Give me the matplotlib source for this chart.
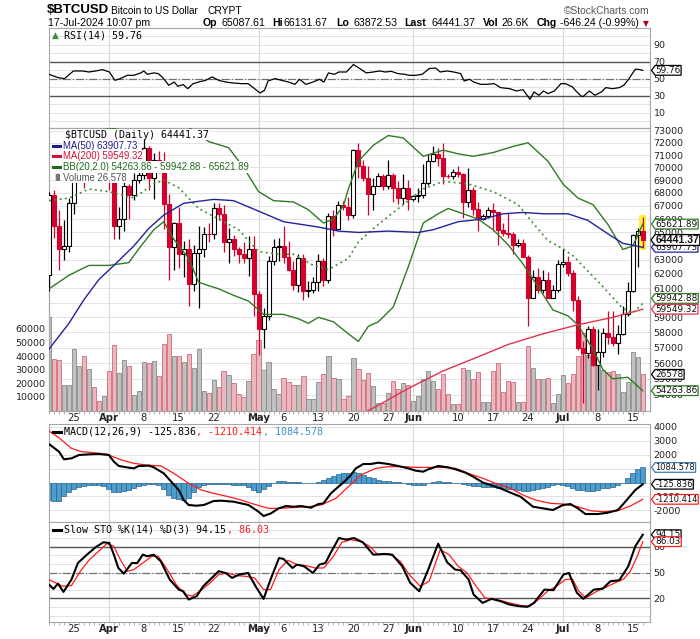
import numpy as np
import pandas as pd
import matplotlib
matplotlib.use("Agg")
import matplotlib.pyplot as plt
from matplotlib import font_manager, transforms
from matplotlib.lines import Line2D
from matplotlib.path import Path
from matplotlib.ticker import FixedLocator, NullLocator, FuncFormatter

# ---------------- data ----------------
start_date = "2024-03-20"

opens = [61930, 67850, 65500, 63800, 64000, 67200, 69950, 70000, 69450, 70750, 69900, 69700,
         71300, 69650, 65450, 65980, 68500, 67850, 69000, 69400, 71600, 69150, 70600, 70000, 67150,
         63900, 65700, 63400, 63800, 61300, 63500, 63800, 64900, 64880, 66800, 66400, 64300, 64500,
         63800, 63400, 63100, 63800,
         60600, 58250, 59100, 62900, 63900, 64000, 63200, 62300, 61200, 63100, 60800, 60850, 61450,
         62900, 61550, 66250, 65250, 67050, 66950, 66280, 71450, 70150, 69150, 67950, 68550, 69300,
         68500, 69400, 68350, 67600, 68350,
         67500, 67750, 67800, 68800, 70550, 71100, 70800, 69350, 69300, 69650, 69500, 67300, 68250,
         66750, 66000, 66200, 66650, 66500, 65150, 64950, 64850, 64100, 64250, 63200, 60300, 61800,
         60850, 61600, 60300, 60900,
         62700, 62850, 62050, 60200, 57000, 56650, 58250, 55850, 56700, 57950, 57700, 57300, 57900,
         59200, 60800, 64800, 65087.61]
highs = [68100, 68200, 66650, 65950, 67600, 71150, 71550, 71700, 71550, 70900, 70300, 71350,
         71350, 69700, 66900, 69250, 68700, 69600, 70300, 72750, 71750, 71150, 71300, 71250, 67900,
         65800, 66900, 64350, 64500, 64100, 65450, 65400, 65700, 67200, 67200, 67100, 65300, 64800,
         63900, 64300, 64700, 64700,
         60800, 59600, 63300, 64500, 64600, 65450, 64400, 62950, 63400, 63450, 61500, 61800, 63450,
         63100, 66450, 66700, 67400, 67400, 67650, 71500, 71950, 70600, 70100, 69200, 69550, 69500,
         70600, 69550, 68900, 69500, 69000,
         67850, 68400, 70250, 71050, 71750, 71600, 71950, 69500, 69850, 70150, 69550, 69950, 68450,
         67300, 66400, 66950, 67250, 66500, 65700, 66450, 65050, 64500, 64500, 63350, 62300, 62450,
         62300, 62150, 61200, 63000,
         63800, 63250, 62250, 60450, 57450, 58450, 58400, 58200, 58300, 59450, 59450, 58500, 59800,
         61400, 64900, 65350, 66131.67]
lows = [60800, 64600, 62300, 63000, 63600, 66400, 69250, 68400, 68900, 69100, 69600, 69600,
        68200, 64550, 64500, 65100, 66000, 67450, 68800, 69100, 68250, 67500, 69600, 65250, 61600,
        62300, 62400, 61800, 59800, 60800, 59650, 63200, 64300, 64550, 65900, 63600, 62800, 63300,
        62800, 62800, 61850, 59100,
        56550, 56950, 58850, 62600, 62900, 62800, 62200, 60900, 60700, 60200, 60400, 60650, 60800,
        61150, 61350, 64700, 65150, 66650, 65950, 66100, 69200, 68900, 66300, 66650, 68500, 68200,
        68300, 67300, 67150, 67150, 66700,
        67400, 67300, 67600, 68600, 70400, 70150, 68700, 69150, 69100, 69250, 66100, 66950, 66300,
        65100, 65900, 66050, 65100, 64100, 64700, 64600, 63450, 63950, 63200, 58450, 60300, 60650,
        60650, 60300, 60300, 60700,
        62500, 61850, 59450, 56850, 53500, 56350, 55800, 54300, 56400, 57200, 57100, 56600, 57800,
        59100, 60700, 62500, 63872.53]
closes = [67850, 65500, 63800, 64000, 67200, 69950, 70000, 69450, 70750, 69900, 69700, 71300,
          69650, 65450, 65980, 68500, 67850, 69000, 69400, 71600, 69150, 70600, 70000, 67150, 63900,
          65700, 63400, 63800, 61300, 63500, 63800, 64900, 64880, 66800, 66400, 64300, 64500, 63800,
          63400, 63100, 63800, 60600,
          58250, 59100, 62900, 63900, 64000, 63200, 62300, 61200, 63100, 60800, 60850, 61450, 62900,
          61550, 66250, 65250, 67050, 66950, 66280, 71450, 70150, 69150, 67950, 68550, 69300, 68500,
          69400, 68350, 67600, 68350, 67500,
          67750, 67800, 68800, 70550, 71100, 70800, 69350, 69300, 69650, 69500, 67300, 68250, 66750,
          66000, 66200, 66650, 66500, 65150, 64950, 64850, 64100, 64250, 63200, 60300, 61800, 60850,
          61600, 60300, 60900, 62700,
          62850, 62050, 60200, 57000, 56650, 58250, 55850, 56700, 57950, 57700, 57300, 57900, 59200,
          60800, 64800, 65087.61, 64441.37]
volumes = [69000, 38000, 37300, 18900, 18900, 45300, 32800, 40200, 30600, 17600, 7300, 10800,
           28700, 48500, 27900, 36800, 33000, 11500, 14000, 36000, 34800, 36300, 25000, 49000, 56400,
           40400, 40400, 35300, 41200, 31600, 45300, 14200, 13200, 22500, 17600, 28700, 26200, 19900,
           12200, 10000, 21800, 41200,
           51500, 29400, 35300, 15900, 12200, 24000, 21300, 18400, 18400, 25500, 8600, 8600, 21300,
           26500, 40400, 24000, 23300, 8600, 10300, 38500, 30600, 22500, 27700, 17900, 5600, 5600,
           13000, 21800, 15900, 20300, 19100,
           7100, 10500, 22800, 28900, 22000, 15900, 27000, 12000, 4900, 4900, 31400, 30100, 22800,
           28200, 6400, 6400, 28700, 35000, 13500, 22000, 20800, 6100, 6100, 47300, 31600, 22800,
           23300, 24000, 5600, 12200,
           26200, 20300, 27000, 40400, 57100, 40900, 35500, 42900, 29400, 28200, 28900, 27000, 13500,
           20800, 42900, 39200, 26578]

ma50_days = [0, 4, 7, 10, 13, 17, 20, 23, 27, 33, 37, 42, 47, 54, 58, 62, 68, 74, 77, 82, 87, 91,
             95, 99, 104, 108, 112, 115, 119]
ma50_vals = [56900, 58600, 60200, 61600, 62600, 64000, 65300, 66300, 67200, 67500, 67400, 66600,
             65800, 65400, 65100, 65000, 65100, 65000, 65200, 65800, 66000, 66400, 66500, 66400,
             66400, 65900, 64900, 64200, 63907.73]
ma200_days = [58, 65, 72, 79, 86, 92, 99, 106, 113, 119]
ma200_vals = [52100, 53200, 54400, 55500, 56400, 57200, 57900, 58500, 59000, 59549.32]

bb_up_days = [0, 5, 10, 13, 17, 22, 26, 28, 32, 36, 39, 42, 45, 49, 52, 55, 57, 59, 60, 62, 65, 68,
              71, 75, 79, 82, 85, 89, 93, 96, 100, 103, 106, 109, 112, 115, 117, 119]
bb_up_vals = [74000, 73700, 73300, 73200, 73500, 74200, 73800, 73300, 72100, 71600, 70000, 68100,
              67400, 67300, 66700, 65700, 66000, 67000, 68300, 70500, 71800, 72600, 72400, 70900,
              71400, 71100, 70900, 71200, 71700, 72000, 70500, 68700, 67600, 67100, 65600, 63750,
              64000, 65621.89]
bb_mid_days = [0, 4, 8, 12, 17, 21, 23, 26, 30, 34, 38, 42, 46, 49, 53, 56, 60, 62, 66, 70, 75, 79,
               84, 89, 94, 97, 100, 103, 105, 108, 111, 115, 117, 119]
bb_mid_vals = [67400, 67600, 68300, 68100, 67600, 68700, 69000, 68400, 66800, 66000, 65200, 63600,
               63400, 63400, 62600, 62300, 63100, 64300, 65600, 66800, 68300, 68900, 68700, 68100,
               67100, 65700, 64400, 63800, 63300, 62200, 61100, 59600, 59300, 59942.88]
bb_lo_days = [0, 4, 8, 12, 16, 18, 21, 23, 25, 28, 30, 34, 37, 40, 43, 47, 50, 52, 54, 57, 60, 62,
              64, 66, 69, 72, 75, 78, 80, 83, 86, 89, 92, 95, 98, 101, 104, 106, 109, 111, 113, 116,
              119]
bb_lo_vals = [60950, 61900, 62600, 62600, 62800, 63800, 65200, 65800, 64500, 63100, 61400, 60950,
              60500, 60100, 59200, 59200, 58900, 58600, 59000, 58700, 57900, 57400, 58400, 58700,
              59700, 62500, 65700, 66400, 66800, 66400, 66000, 65200, 64100, 62700, 61100, 59500,
              59100, 58500, 56900, 55600, 55000, 55100, 54263.86]

rsi_days = [0, 1.8, 3.1, 4.9, 6.7, 8, 9.4, 10.7, 12.1, 13.2, 14.3, 15.7, 17, 18.4, 19, 19.7, 21,
            21.9, 22.8, 24, 25.1, 25.8, 26.9, 27.8, 28.9, 30, 31.4, 32.7, 34, 35.4, 36.7, 38.5, 39.9,
            41.2, 42.3, 43.2, 43.9, 45.3, 46.6, 48, 49.3, 50.2, 51.5, 52.9, 54.2, 55.1, 56, 57.2,
            58.1, 59.6, 61, 61.8, 63.6, 65, 66.3, 67.4, 68.6, 69.9, 71.3, 72.2, 73.5, 74.8, 76.2,
            77.5, 78.4, 79.8, 81.1, 82.5, 83.2, 84.3, 85.1, 86.5, 87.8, 89.2, 90.5, 92.3, 93.7, 95,
            96.4, 97.2, 98.2, 99.1, 100, 101.3, 102.6, 103.5, 104.9, 105.8, 106.7, 107.1, 108.3,
            109.4, 110.7, 111.6, 112.9, 114.3, 115.2, 116.1, 117.5, 118.1, 119]
rsi_vals = [55.1, 51.2, 50, 59, 59, 57.8, 59, 60.6, 57.8, 48, 50, 53.9, 53.9, 56.7, 59, 55.1, 56.7,
            55.9, 51.2, 42.2, 46, 41, 43, 38.2, 44.1, 46, 48, 52, 48, 46, 45, 44.1, 44.1, 38.2, 33.1,
            36.3, 47.3, 50, 48, 46, 43.3, 49.2, 43.3, 46, 49.2, 46, 56.7, 55.1, 57.8, 57.8, 66.5,
            63.7, 56.7, 57.8, 59, 57.8, 58.6, 55.9, 55.1, 53.9, 53.9, 55.1, 61.8, 62.5, 57.8, 59,
            57.8, 55.9, 47.3, 49.2, 46, 43.3, 43.3, 44.1, 39.4, 38.2, 35.5, 37, 25.7, 34.3, 30.4,
            35.5, 32.4, 35.5, 44.1, 44.1, 40.2, 34.3, 29.2, 29.2, 35.5, 30.4, 34.3, 39.4, 38.2, 39.4,
            42.2, 48.8, 61, 61, 59.76]

macd_days = [0, 2, 3, 4.5, 6, 8, 10, 12, 13, 14, 16, 17, 18, 20, 21, 23, 24.5, 26, 27, 28, 29.5,
             31, 33, 34.5, 37, 38.5, 40, 42, 43, 44.5, 46, 47.5, 49, 50.5, 52.5, 54, 55, 56.5, 58,
             59, 60.5, 61.5, 63, 64.5, 66, 68, 70, 72, 73.5, 75, 76, 78, 80, 81.5, 83.5, 85, 87,
             88.5, 90.5, 92.5, 94.5, 96, 97, 99, 101, 103, 104.5, 106, 107.5, 110, 112, 114, 115.5,
             117.5, 119]
macd_vals = [2772, 2220, 1668, 1740, 1980, 2028, 2052, 1980, 1500, 1188, 1068, 1020, 1188, 1212,
             1092, 660, 60, -540, -1260, -1620, -1668, -1620, -1332, -1308, -1380, -1500, -1620,
             -2100, -2412, -2220, -1860, -1692, -1740, -1692, -1812, -1548, -1500, -780, -300, 0,
             540, 1020, 1332, 1332, 1428, 1332, 1188, 1020, 852, 780, 948, 1188, 1092, 948, 708,
             420, -12, -180, -420, -732, -1020, -1452, -1740, -1860, -1980, -1620, -1548, -1860,
             -2268, -2268, -2172, -1980, -1380, -540, -125.836]
signal_days = [0, 2, 4.5, 6.5, 9, 11.5, 14.5, 17, 19.5, 22.5, 25, 28, 30.5, 33, 36, 38.5, 41, 44,
               46.5, 49.5, 52, 54.5, 57.5, 60, 62.5, 65.5, 68, 71, 73.5, 76, 79, 81.5, 84, 87, 89.5,
               92.5, 95, 97.5, 100.5, 103, 106, 108.5, 111, 114, 116.5, 119]
signal_vals = [3700, 3223, 2460, 2220, 2148, 2052, 1620, 1380, 1260, 1188, 660, -60, -540, -780,
               -1020, -1260, -1548, -1860, -1860, -1788, -1740, -1620, -1140, -300, 540, 1020,
               1140, 1140, 1092, 1092, 1092, 1020, 660, 300, -60, -420, -900, -1260, -1500, -1548,
               -1740, -2028, -2100, -2028, -1692, -1210.414]
hist_vals = [-1250, -1300, -1300, -1000, -700, -450, -300, -250, -200, -200,
             -200, -250, -500, -700, -650, -600, -550, -400, -250, -150,
             -120, -120, -200, -500, -900, -1150, -1200, -1250, -1150, -700,
             -350, -150, -100, -80, -100, -120, -100, -150, -150, -200,
             -300, -550, -650, -500, -250, -50, 80, 100, 60, 20,
             60, 0, -30, -20, 60, 150, 350, 500, 600, 700,
             720, 750, 650, 550, 400, 300, 200, 120, 80, 60,
             40, -30, -100, -170, -200, -170, -40, 30, 80, 50,
             40, 0, -50, -100, -200, -250, -280, -300, -320, -350,
             -400, -430, -450, -500, -560, -600, -600, -550, -450, -380,
             -300, -200, -120, -194, -264, -360, -504, -504, -600, -600,
             -550, -430, -360, -310, -190, 0, 290, 650, 960, 1084.578]

stok_days = [0, 0.9, 1.8, 2.9, 4.5, 5.8, 7.6, 9.4, 10.9, 12.1, 13, 13.9, 15, 16.6, 17.7, 18.8, 19.7,
             21, 22.4, 24.2, 26, 26.9, 28, 29.6, 30.9, 32.3, 34, 35.4, 36.7, 38.1, 39.9, 41.4, 43,
             44.4, 46.1, 47, 48.8, 49.7, 51.1, 52.9, 54.2, 55.4, 56.5, 58.1, 59.6, 61.1, 62.9, 65,
             67.2, 68.8, 70.8, 72.4, 74.2, 76, 78, 79.8, 81.4, 82.5, 84.1, 85.1, 86.9, 88.7, 90.5,
             92.3, 94.1, 95.9, 97.2, 99.3, 101.1, 103.1, 104.2, 105.8, 107.1, 109.2, 111, 112.5,
             114.3, 116.1, 117.5, 119]
stok_vals = [36, 31, 37.2, 27.5, 41.9, 61.2, 70.9, 79.8, 85.3, 84.5, 70.9, 55.4, 48.8, 61.2, 61.2,
             70.9, 69, 70.9, 63.2, 41.9, 30.2, 28.3, 18.6, 22.5, 34.1, 41.9, 51.6, 49.6, 43.8, 47.7,
             49.6, 34.1, 19.4, 41.9, 67, 65.9, 55.4, 59.3, 57.4, 49.6, 59.3, 61.2, 73.6, 90.3, 88.4,
             90.3, 85.3, 70.9, 71.7, 70.9, 57.4, 38, 28.3, 53.5, 83.7, 62, 53.5, 52.7, 41.9, 24.4,
             14.7, 19.4, 16.7, 12.8, 10.9, 10.1, 14.7, 30.2, 29.5, 47.7, 49.6, 26.4, 19.4, 30.2, 31.4,
             39.9, 41.1, 57.4, 80.6, 94.15]
stod_days = [0, 2.7, 4.5, 6.3, 8.1, 10.3, 11.6, 13, 14.3, 15.7, 17, 18.8, 20.6, 21.9, 23.7, 25.5,
             27.3, 28.7, 30.5, 32.3, 34, 35.8, 37.6, 39.4, 41.2, 43, 44.4, 46.1, 47.9, 49.7, 51.5,
             53.3, 55.1, 56.9, 58.7, 60.5, 62.3, 64.1, 65.9, 68.1, 70.4, 72.2, 74.4, 76.2, 78.4,
             80.2, 82, 83.8, 85.6, 87.4, 89.2, 91, 92.8, 94.6, 96.4, 98.1, 99.9, 101.7, 103.5, 104.9,
             106.2, 107.6, 109.8, 111.6, 113.4, 115.2, 116.5, 117.9, 119]
stod_vals = [41.9, 34.1, 34.9, 51.6, 65.1, 76.7, 83.7, 80.6, 65.1, 51.6, 53.5, 61.2, 69, 69, 53.5,
             36, 24.4, 22.5, 29.5, 38, 47.7, 49.6, 46.5, 45.7, 43.8, 30.2, 30.2, 53.5, 64.3, 59.3,
             58.1, 55.4, 55.4, 68.2, 85.3, 88.4, 86.4, 81.4, 70.9, 72.1, 63.2, 47.7, 34.1, 39.9,
             76.7, 70.9, 57.4, 49.6, 34.1, 20.5, 19.4, 16.7, 14, 11.6, 10.9, 18.6, 28.3, 34.1, 41.9,
             42.6, 28.3, 20.5, 28.3, 32.9, 38, 42.6, 51.6, 69, 86.03]

tick_dates = ["2024-03-25", "2024-04-01", "2024-04-08", "2024-04-15", "2024-04-22", "2024-05-01",
              "2024-05-06", "2024-05-13", "2024-05-20", "2024-05-27", "2024-06-01", "2024-06-10",
              "2024-06-17", "2024-06-24", "2024-07-01", "2024-07-08", "2024-07-15"]
tick_labels = ["25", "Apr", "8", "15", "22", "May", "6", "13", "20", "27", "Jun", "10", "17", "24",
               "Jul", "8", "15"]
month_labels = ["Apr", "May", "Jun", "Jul"]

# right-axis labels that sit completely under a value tag in the original
hidden_price_labels = [64000, 60000]
hidden_macd_labels = [1000, 0]

# ---------------- layout ----------------
W, H = 700, 639
fig = plt.figure(figsize=(W / 100, H / 100), dpi=100)
fig.patch.set_facecolor("white")

names = {f.name for f in font_manager.fontManager.ttflist}
NARROW = "Liberation Sans Narrow" if "Liberation Sans Narrow" in names else "Liberation Sans"
SANS = "DejaVu Sans"
MONO = "DejaVu Sans Mono"
ARIAL = "Liberation Sans"

GRID = "#e2e2e2"
FRAME = "#a6a6a6"
DARK = "#555555"
RED = "#d5002b"
LEFT, RIGHT = 49, 650

n = len(closes)
days = np.arange(n)
dates = pd.date_range(start_date, periods=n, freq="D")
tick_days = [(pd.Timestamp(d) - dates[0]).days for d in tick_dates]
month_days = [tick_days[i] for i, lab in enumerate(tick_labels) if lab in month_labels]
XMIN, XMAX = 0.0, 120.45


def panel(top, bottom):
    return fig.add_axes([LEFT / W, 1 - bottom / H, (RIGHT - LEFT) / W, (bottom - top) / H])


def frame(ax):
    for s in ax.spines.values():
        s.set_color(FRAME)
        s.set_linewidth(0.8)
    ax.xaxis.set_major_locator(FixedLocator(tick_days))
    ax.xaxis.set_minor_locator(FixedLocator(days))
    ax.tick_params(axis="x", which="major", length=0, labelbottom=False, pad=1.5)
    ax.tick_params(axis="x", which="minor", length=1.8, width=0.6, color=FRAME)
    ax.tick_params(axis="y", which="both", length=0, pad=2.5, labelsize=6.8, labelcolor="#222")
    for d in month_days:
        ax.axvline(d, color="#d9d9d9", lw=0.9, zorder=0)


def bottom_labels(ax):
    ax.set_xticks(tick_days)
    ax.set_xticklabels(tick_labels)
    ax.tick_params(axis="x", which="major", labelbottom=True, labelsize=7.2, labelcolor="#222")
    for lbl in ax.get_xticklabels():
        if lbl.get_text() in month_labels:
            lbl.set_fontweight("bold")


def ftext(x, y, s, **kw):
    return fig.text(x / W, 1 - y / H, s, va="center", **kw)


def tag_shape(x0, y0, width, height, mutation_size):
    pad = 0.04 * mutation_size
    x0, y0 = x0 - pad, y0 - pad
    width, height = width + 2 * pad, height + 2 * pad
    tip = 0.38 * height
    verts = [(x0 - tip, y0 + height / 2), (x0, y0), (x0 + width, y0),
             (x0 + width, y0 + height), (x0, y0 + height), (x0 - tip, y0 + height / 2)]
    codes = [Path.MOVETO] + [Path.LINETO] * 4 + [Path.CLOSEPOLY]
    return Path(verts, codes)


def tag(ax, value, label, edge, bold=False, dy=0, size=6.4, family=SANS, z=10):
    tr = transforms.blended_transform_factory(fig.transFigure, ax.transData)
    if dy:
        tr = tr + transforms.ScaledTranslation(0, dy / 100, fig.dpi_scale_trans)
    fig.text(655.5 / W, value, label, transform=tr, va="center", ha="left", fontsize=size,
             family=family, fontweight="bold" if bold else "normal", color="#111", zorder=z,
             bbox=dict(boxstyle=tag_shape, fc="white", ec=edge, lw=0.9))


def dash(x, y, color):
    fig.add_artist(Line2D([x / W, (x + 8.5) / W], [1 - y / H, 1 - y / H], color=color, lw=2.2))


# ---------------- RSI ----------------
ax_rsi = panel(28.3, 127.5)
frame(ax_rsi)
for v in range(0, 101, 10):
    ax_rsi.axhline(v, color=GRID, lw=0.7, zorder=0)
ax_rsi.axhline(70, color=DARK, lw=1.0, zorder=1)
ax_rsi.axhline(30, color=DARK, lw=1.0, zorder=1)
ax_rsi.axhline(50, color="#707070", lw=0.9, ls="-.", zorder=1)
ax_rsi.plot(rsi_days, rsi_vals, color="black", lw=0.9, zorder=3)
ax_rsi.yaxis.tick_right()
ax_rsi.set_yticks([10, 30, 50, 70, 90])
ax_rsi.set_xlim(XMIN, XMAX)
ax_rsi.set_ylim(-7.5, 109.2)

# ---------------- price + volume ----------------
ax_vol = panel(127.5, 410.5)
ax_px = ax_vol.twinx()
frame(ax_vol)
for s in ax_px.spines.values():
    s.set_color(FRAME)
    s.set_linewidth(0.8)
ax_px.set_yscale("log")

price_grid = transforms.blended_transform_factory(ax_vol.transAxes, ax_px.transData)
for p in range(54000, 74000, 1000):
    ax_vol.add_line(Line2D([0, 1], [p, p], transform=price_grid, color=GRID, lw=0.7, zorder=0))

prev_close = [opens[0]] + closes[:-1]
down = [c < p for c, p in zip(closes, prev_close)]
vol_face = ["#e9b7be" if d else "#c0c0c0" for d in down]
vol_edge = ["#d06a7c" if d else "#8a8a8a" for d in down]
ax_vol.bar(days, volumes, width=0.86, color=vol_face, edgecolor=vol_edge, lw=0.6, zorder=2)
ax_vol.yaxis.tick_left()
ax_vol.set_yticks(range(10000, 60001, 10000))

# highlight of the latest bar
ax_px.bar(days[-1], highs[-1] * 1.003 - lows[-1] * 0.997, bottom=lows[-1] * 0.997, width=1.45,
          color="#fff23a", zorder=2)
wick_col = [RED if d else "black" for d in down]
ax_px.vlines(days, lows, highs, colors=wick_col, lw=0.9, zorder=3)
body_lo = [min(o, c) for o, c in zip(opens, closes)]
body_h = [max(abs(c - o), 25) for o, c in zip(opens, closes)]
body_face = [RED if c < o else "white" for o, c in zip(opens, closes)]
body_edge = [RED if d else "black" for d in down]
ax_px.bar(days, body_h, bottom=body_lo, width=0.8, color=body_face, edgecolor=body_edge,
          lw=0.8, zorder=4)

ax_px.plot(bb_up_days, bb_up_vals, color="#2f7a22", lw=1.0, zorder=5)
ax_px.plot(bb_lo_days, bb_lo_vals, color="#2f7a22", lw=1.0, zorder=5)
ax_px.plot(bb_mid_days, bb_mid_vals, color="#3f9432", lw=1.2, ls=(0, (1.2, 2.0)), zorder=5)
ax_px.plot(ma50_days, ma50_vals, color="#22229a", lw=1.0, zorder=5)
ax_px.plot(ma200_days, ma200_vals, color="#e2334f", lw=1.0, zorder=5)

ax_px.yaxis.set_major_locator(FixedLocator(range(54000, 74000, 1000)))
ax_px.yaxis.set_major_formatter(
    FuncFormatter(lambda v, _: "" if round(v) in hidden_price_labels else f"{v:.0f}"))
ax_px.yaxis.set_minor_locator(NullLocator())
ax_px.tick_params(axis="y", which="both", length=0, pad=2.5, labelsize=6.8, labelcolor="#222")
ax_vol.set_xlim(XMIN, XMAX)
ax_vol.set_ylim(0, 208000)
ax_px.set_ylim(53050, 73267)
bottom_labels(ax_vol)

# ---------------- MACD ----------------
ax_macd = panel(424.3, 521.7)
frame(ax_macd)
for v in range(-2000, 4001, 1000):
    ax_macd.axhline(v, color=GRID, lw=0.7, zorder=0)
ax_macd.bar(days, hist_vals, width=1.0, color="#4f9dcb", edgecolor="#24658f", lw=0.5, zorder=2)
ax_macd.plot(signal_days, signal_vals, color="#ff1a1a", lw=0.9, zorder=3)
ax_macd.plot(macd_days, macd_vals, color="black", lw=1.5, zorder=4)
ax_macd.yaxis.tick_right()
macd_ticks = list(range(-2000, 4001, 1000))
ax_macd.set_yticks(macd_ticks)
ax_macd.set_yticklabels(["" if t in hidden_macd_labels else str(t) for t in macd_ticks])
ax_macd.set_xlim(XMIN, XMAX)
ax_macd.set_ylim(-2820, 4190)

# ---------------- Slow stochastic ----------------
ax_sto = panel(521.7, 621.7)
frame(ax_sto)
for v in range(0, 101, 10):
    ax_sto.axhline(v, color=GRID, lw=0.7, zorder=0)
ax_sto.axhline(80, color=DARK, lw=1.0, zorder=1)
ax_sto.axhline(20, color=DARK, lw=1.0, zorder=1)
ax_sto.axhline(50, color="#707070", lw=0.9, ls="-.", zorder=1)
ax_sto.plot(stod_days, stod_vals, color="#ff1a1a", lw=0.9, zorder=3)
ax_sto.plot(stok_days, stok_vals, color="black", lw=1.5, zorder=4)
ax_sto.yaxis.tick_right()
ax_sto.set_yticks([20, 50, 80])
ax_sto.set_xlim(XMIN, XMAX)
ax_sto.set_ylim(-7.2, 109.3)
bottom_labels(ax_sto)

# ---------------- header ----------------
big = 11 if NARROW != "Liberation Sans" else 9.5
ftext(47, 10, "$BTCUSD", family=NARROW, fontweight="bold", fontsize=big)
ftext(111, 11, "Bitcoin to US Dollar", family=NARROW, fontsize=big - 2.3)
ftext(208, 11, "CRYPT", family=ARIAL, fontsize=7.4)
ftext(650, 11, "\u00a9StockCharts.com", ha="right", family=ARIAL, fontsize=7.4, color="#555555")
ftext(48, 23.5, "17-Jul-2024 10:07 pm", family=ARIAL, fontsize=7.6)
chg = closes[-1] - closes[-2]
quote = [("Op", f"{opens[-1]:.2f}", 203, 221), ("Hi", f"{highs[-1]:.2f}", 272, 283.5),
         ("Lo", f"{lows[-1]:.2f}", 336, 353), ("Last", f"{closes[-1]:.2f}", 404, 431),
         ("Vol", f"{volumes[-1] / 1000:.1f}K", 483, 501),
         ("Chg", f"{chg:.2f} ({chg / closes[-2] * 100:.2f}%)", 537, 560)]
for lab, val, xl, xv in quote:
    ftext(xl, 23.5, lab, family=ARIAL, fontweight="bold", fontsize=7.6)
    ftext(xv, 23.5, val, family=ARIAL, fontsize=7.6)
ftext(643, 23.5, "\u25bc", family=SANS, fontsize=5.5, color="#b0001e")

# ---------------- panel legends ----------------
white = dict(fc="white", ec="none", pad=0.6)
ftext(52, 35.7, "\u25b2", family=SANS, fontsize=6.5, color="#3c8c3c")
ftext(64, 35.7, f"RSI(14) {rsi_vals[-1]:.2f}", family=MONO, fontsize=7.2)
ftext(65, 134.5, f"$BTCUSD (Daily) {closes[-1]:.2f}", family=MONO, fontsize=7.2, bbox=white)
rows = [(146, "#1c1c8c", f"MA(50) {ma50_vals[-1]:.2f}"),
        (156.3, "#d11238", f"MA(200) {ma200_vals[-1]:.2f}"),
        (166.7, "#1d6a1d", f"BB(20,2.0) {bb_lo_vals[-1]:.2f} - {bb_mid_vals[-1]:.2f} - "
                           f"{bb_up_vals[-1]:.2f}")]
for y, col, s in rows:
    dash(52.5, y, col)
    ftext(63, y, s, family=ARIAL, fontsize=6.9, color=col, bbox=white)
ftext(52, 177.3, "\u2590\u258c", family=SANS, fontsize=5, color="#777777")
ftext(63, 177.3, f"Volume {volumes[-1]:,}", family=ARIAL, fontsize=6.9, color="#555555",
      bbox=white)

cw = 7.2 * 0.602 * 100 / 72
dash(52.5, 431.7, "black")
seg1 = f"MACD(12,26,9) {macd_vals[-1]:.3f}"
seg2 = f", {signal_vals[-1]:.3f}"
ftext(64, 431.7, seg1, family=MONO, fontsize=7.2)
ftext(64 + len(seg1) * cw, 431.7, seg2, family=MONO, fontsize=7.2, color="#ff1a1a")
ftext(64 + (len(seg1) + len(seg2)) * cw, 431.7, f", {hist_vals[-1]:.3f}", family=MONO,
      fontsize=7.2, color="#3c8fc6")
dash(52.5, 530, "black")
seg1 = f"Slow STO %K(14) %D(3) {stok_vals[-1]:.2f}"
ftext(64, 530, seg1, family=MONO, fontsize=7.2)
ftext(64 + len(seg1) * cw, 530, f", {stod_vals[-1]:.2f}", family=MONO, fontsize=7.2,
      color="#ff1a1a")

# ---------------- right-hand value tags ----------------
tag(ax_rsi, rsi_vals[-1], f"{rsi_vals[-1]:.2f}", "black")
tag(ax_px, bb_up_vals[-1], f"{bb_up_vals[-1]:.2f}", "#2f7a22")
tag(ax_px, ma50_vals[-1], f"{ma50_vals[-1]:.2f}", "#22229a")
tag(ax_px, closes[-1], f"{closes[-1]:.2f}", "black", bold=True, size=7.6, family=ARIAL, z=11)
tag(ax_px, bb_mid_vals[-1], f"{bb_mid_vals[-1]:.2f}", "#2f7a22", dy=5)
tag(ax_px, ma200_vals[-1], f"{ma200_vals[-1]:.2f}", "#e2334f", z=11)
tag(ax_vol, volumes[-1], f"{volumes[-1]}", "black")
tag(ax_px, bb_lo_vals[-1], f"{bb_lo_vals[-1]:.2f}", "#2f7a22")
tag(ax_macd, hist_vals[-1], f"{hist_vals[-1]:.3f}", "#3c7fb8", size=6.0)
tag(ax_macd, macd_vals[-1], f"{macd_vals[-1]:.3f}", "black", size=6.0, z=11)
tag(ax_macd, signal_vals[-1], f"{signal_vals[-1]:.3f}", "#ff1a1a", size=6.0, z=11)
tag(ax_sto, stok_vals[-1], f"{stok_vals[-1]:.2f}", "black")
tag(ax_sto, stod_vals[-1], f"{stod_vals[-1]:.2f}", "#ff1a1a", z=11)

fig.savefig("out.png", dpi=100, facecolor="white")
